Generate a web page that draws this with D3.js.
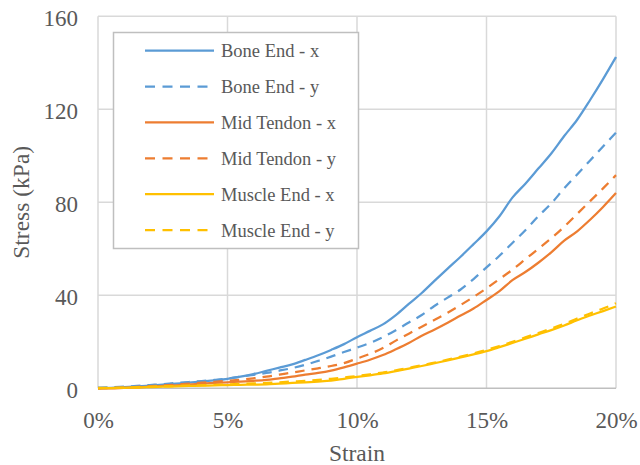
<!DOCTYPE html>
<html>
<head>
<meta charset="utf-8">
<script src="https://cdn.jsdelivr.net/npm/d3@7"></script>
<style>
  html, body { margin: 0; padding: 0; background: #ffffff; }
  svg { display: block; }
</style>
</head>
<body>
<svg id="chart" width="640" height="465"></svg>
<script>
// ---- Data (strain in %, stress in kPa) ----
const strain = [0,0.5,1,1.5,2,2.5,3,3.5,4,4.5,5,5.5,6,6.5,7,7.5,8,8.5,9,9.5,10,10.5,11,11.5,12,12.5,13,13.5,14,14.5,15,15.5,16,16.5,17,17.5,18,18.5,19,19.5,20];

const boneEndX = [0,0.2,0.5,0.8,1.2,1.6,2.0,2.4,2.9,3.4,4.1,5.0,6.1,7.5,8.9,10.3,12.2,14.2,16.5,19.0,22.0,24.7,27.5,31.5,36.3,41.0,46.3,51.5,56.6,62.0,67.5,74.0,82.0,88.0,94.5,101.0,108.5,115.5,124.0,133.0,142.5];
const boneEndY = [0.3,0.4,0.7,1.0,1.4,1.8,2.3,2.7,3.1,3.6,4.2,5.0,5.8,6.6,7.6,8.7,10.1,11.8,13.6,15.6,17.5,19.5,22.0,25.0,28.3,31.5,35.5,39.0,42.5,47.0,52.0,57.0,62.5,68.0,74.0,79.5,86.0,92.0,98.0,104.0,110.0];
const midTendonX = [0,0,0.2,0.4,0.7,1.0,1.3,1.6,2.0,2.3,2.6,2.9,3.2,3.6,4.3,5.0,5.9,6.6,7.6,9.0,10.6,12.3,14.3,16.8,19.5,22.6,25.3,28.2,31.3,34.3,38.0,41.8,46.5,50.0,54.0,58.5,63.5,67.5,72.5,78.0,84.0];
const midTendonY = [0,0.1,0.3,0.6,0.9,1.2,1.6,2.0,2.4,2.8,3.2,3.7,4.3,5.0,5.9,6.8,7.7,8.6,9.6,10.8,12.8,14.8,17.3,20.5,23.5,26.5,29.5,32.5,35.8,39.3,43.0,47.0,51.0,55.5,60.0,64.5,69.5,75.0,80.5,86.0,91.7];
const muscleEndX = [0,0.1,0.2,0.3,0.5,0.7,0.8,1.0,1.1,1.3,1.4,1.5,1.6,1.7,2.0,2.3,2.6,2.9,3.3,4.1,4.9,5.6,6.4,7.4,8.5,9.6,10.8,12.0,13.3,14.6,16.0,17.7,19.5,21.3,23.2,25.0,27.0,29.3,31.3,33.2,35.2];
const muscleEndY = [0.2,0.2,0.3,0.5,0.7,0.9,1.0,1.2,1.3,1.5,1.7,1.9,2.1,2.3,2.6,2.9,3.2,3.6,4.1,4.7,5.3,6.0,6.8,7.7,8.8,9.9,11.1,12.3,13.6,15.0,16.5,18.2,20.0,21.9,23.8,25.7,27.7,30.0,32.2,34.3,36.6];

const seriesNames = ["Bone End - x","Bone End - y","Mid Tendon - x","Mid Tendon - y","Muscle End - x","Muscle End - y"];
const seriesValues = [boneEndX, boneEndY, midTendonX, midTendonY, muscleEndX, muscleEndY];
const seriesColors = ["#5B9BD5","#5B9BD5","#ED7D31","#ED7D31","#FFC000","#FFC000"];
const seriesDashed = [false,true,false,true,false,true];

const xTicks = [0,5,10,15,20];
const yTicks = [0,40,80,120,160];

// ---- Layout ----
const svg = d3.select("#chart");
const plot = {left: 98, right: 616, top: 16.3, bottom: 388.3};
const x = d3.scaleLinear().domain([0,20]).range([plot.left, plot.right]);
const y = d3.scaleLinear().domain([0,160]).range([plot.bottom, plot.top]);
const font = "'Liberation Serif','Times New Roman',serif";
const textColor = "#595959";

// grid
const g = svg.append("g");
g.selectAll(".hgrid").data(yTicks.filter(d => d !== 0)).enter().append("line")
  .attr("x1", plot.left).attr("x2", plot.right)
  .attr("y1", d => y(d)).attr("y2", d => y(d))
  .attr("stroke", "#d9d9d9").attr("stroke-width", 1.5);
g.selectAll(".vgrid").data(xTicks).enter().append("line")
  .attr("x1", d => x(d)).attr("x2", d => x(d))
  .attr("y1", plot.top).attr("y2", plot.bottom)
  .attr("stroke", "#d9d9d9").attr("stroke-width", 1.5);
// bottom axis line
g.append("line").attr("x1", plot.left).attr("x2", plot.right)
  .attr("y1", y(0)).attr("y2", y(0))
  .attr("stroke", "#bfbfbf").attr("stroke-width", 1.5);

// axes (labels only) via d3 axes
const xAxis = d3.axisBottom(x).tickValues(xTicks).tickFormat(d => d + "%").tickSize(0).tickPadding(0);
const xa = svg.append("g").attr("transform", `translate(0,${plot.bottom})`).call(xAxis);
xa.select(".domain").remove();
xa.selectAll("text").attr("font-family", font).attr("font-size", 23).attr("fill", textColor)
  .attr("dy", null).attr("y", 40);

const yAxis = d3.axisLeft(y).tickValues(yTicks).tickSize(0).tickPadding(0);
const ya = svg.append("g").attr("transform", `translate(78,0)`).call(yAxis);
ya.select(".domain").remove();
ya.selectAll("text").attr("font-family", font).attr("font-size", 23).attr("fill", textColor)
  .attr("dy", null).attr("x", 0).attr("y", 9.6).attr("text-anchor", "end");

// axis titles
svg.append("text").attr("x", (plot.left + plot.right) / 2).attr("y", 461)
  .attr("text-anchor", "middle").attr("font-family", font).attr("font-size", 23.5)
  .attr("fill", textColor).text("Strain");
svg.append("text").attr("transform", `translate(28.5,${(plot.top + plot.bottom) / 2}) rotate(-90)`)
  .attr("text-anchor", "middle").attr("font-family", font).attr("font-size", 23.5)
  .attr("fill", textColor).text("Stress (kPa)");

// lines
const line = d3.line().x((d, i) => x(strain[i])).y(d => y(d)).curve(d3.curveMonotoneX);
seriesValues.forEach((vals, k) => {
  svg.append("path").datum(vals)
    .attr("d", line)
    .attr("fill", "none")
    .attr("stroke", seriesColors[k])
    .attr("stroke-width", 2.25)
    .attr("stroke-linejoin", "round")
    .attr("stroke-dasharray", seriesDashed[k] ? "9.5,7" : null);
});

// legend
const lg = svg.append("g");
lg.append("rect").attr("x", 113.5).attr("y", 32.5).attr("width", 245).attr("height", 216)
  .attr("fill", "#ffffff").attr("stroke", "#bfbfbf").attr("stroke-width", 1.5);
const rowY = d3.scaleLinear().domain([0, 5]).range([50.7, 230]);
seriesNames.forEach((name, k) => {
  const yy = rowY(k);
  lg.append("line").attr("x1", 145).attr("x2", 214).attr("y1", yy).attr("y2", yy)
    .attr("stroke", seriesColors[k]).attr("stroke-width", 2.25)
    .attr("stroke-dasharray", seriesDashed[k] ? "10,7.5" : null);
  lg.append("text").attr("x", 221).attr("y", yy + 6.5)
    .attr("font-family", font).attr("font-size", 18.5).attr("fill", textColor).text(name);
});
</script>
</body>
</html>
